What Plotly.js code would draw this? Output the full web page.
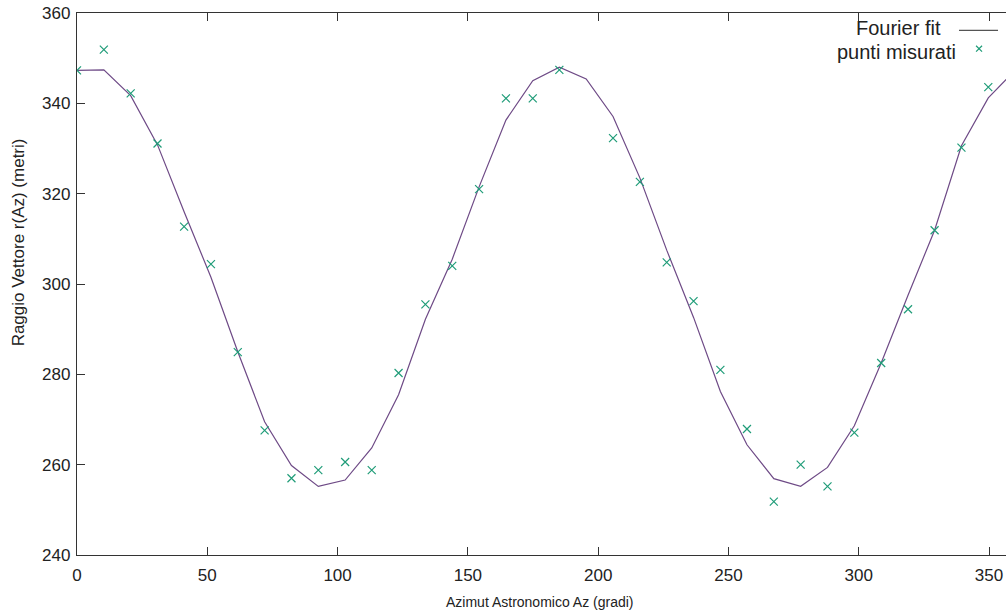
<!DOCTYPE html>
<html>
<head>
<meta charset="utf-8">
<script src="https://cdn.plot.ly/plotly-3.0.1.min.js"></script>
<style>
html,body{margin:0;padding:0;background:#fff;overflow:hidden;}
#chart{width:1006px;height:612px;}
</style>
</head>
<body>
<div id="chart"></div>
<script>
// Azimuth of the measured points (degrees)
const azimut = [0, 10.3, 20.6, 30.9, 41.1, 51.4, 61.7, 72.0, 82.3, 92.6, 102.9, 113.1, 123.4, 133.7, 144.0, 154.3, 164.6, 174.9, 185.1, 195.4, 205.7, 216.0, 226.3, 236.6, 246.9, 257.1, 267.4, 277.7, 288.0, 298.3, 308.6, 318.9, 329.1, 339.4, 349.7];
// Measured radius (metres); the point at 195.4 is not visible in the picture
const puntiMisurati = [347.3, 351.9, 342.2, 331.1, 312.7, 304.4, 284.9, 267.6, 257.0, 258.8, 260.6, 258.8, 280.3, 295.5, 304.0, 321.0, 341.1, 341.1, 347.4, null, 332.3, 322.6, 304.8, 296.2, 281.0, 267.9, 251.8, 260.0, 255.2, 267.1, 282.5, 294.4, 311.9, 330.2, 343.6];
// Fourier fit, evaluated at the same azimuths plus 360
const azimutFit = [0, 10.3, 20.6, 30.9, 41.1, 51.4, 61.7, 72.0, 82.3, 92.6, 102.9, 113.1, 123.4, 133.7, 144.0, 154.3, 164.6, 174.9, 185.1, 195.4, 205.7, 216.0, 226.3, 236.6, 246.9, 257.1, 267.4, 277.7, 288.0, 298.3, 308.6, 318.9, 329.1, 339.4, 349.7, 360];
const fourierFit = [347.3, 347.4, 341.7, 330.8, 316.0, 301.5, 285.0, 269.5, 259.8, 255.2, 256.6, 263.7, 275.5, 292.2, 305.5, 321.5, 336.3, 345.0, 348.0, 345.4, 337.1, 323.5, 307.5, 292.6, 276.2, 264.4, 256.9, 255.2, 259.4, 268.6, 282.5, 297.5, 311.9, 330.6, 341.2, 347.3];

const xTicks = [0, 50, 100, 150, 200, 250, 300, 350];
const yTicks = [240, 260, 280, 300, 320, 340, 360];

const lineColor = '#6e4a86';
const markColor = '#1f9c78';
const tickFont = {family: '"Liberation Sans Narrow", "Liberation Sans", Arial, sans-serif', size: 17, color: '#222'};
const textFont = {family: '"Liberation Sans", Arial, sans-serif', color: '#222'};

const traces = [
  {
    x: azimutFit, y: fourierFit, type: 'scatter', mode: 'lines',
    name: 'Fourier fit',
    line: {color: lineColor, width: 1.2},
    hoverinfo: 'skip'
  },
  {
    x: azimut, y: puntiMisurati, type: 'scatter', mode: 'markers',
    name: 'punti misurati',
    marker: {symbol: 'x-thin-open', size: 8, color: markColor, line: {color: markColor, width: 1.2}},
    hoverinfo: 'skip'
  }
];

// legend sample geometry (paper coords)
const mx = 0.9710, my = 0.9341, dx = 0.0032, dy = 0.0055;

const layout = {
  width: 1006, height: 612,
  margin: {l: 76.5, r: 0, t: 13.3, b: 56.7, pad: 0},
  paper_bgcolor: '#fff', plot_bgcolor: '#fff',
  showlegend: false,
  xaxis: {
    range: [0, 356.5], tickvals: xTicks, ticktext: xTicks.map(String),
    ticks: 'inside', ticklen: 8, tickwidth: 1, tickcolor: '#333',
    showline: true, linecolor: '#333', linewidth: 1.2, mirror: 'ticks',
    showgrid: false, zeroline: false,
    tickfont: tickFont, ticklabelstandoff: 4
  },
  yaxis: {
    range: [240, 360], tickvals: yTicks, ticktext: yTicks.map(String),
    ticks: 'inside', ticklen: 8, tickwidth: 1, tickcolor: '#333',
    showline: true, linecolor: '#333', linewidth: 1.2, mirror: false,
    showgrid: false, zeroline: false,
    tickfont: tickFont, ticklabelstandoff: 2
  },
  annotations: [
    {text: 'Azimut Astronomico Az (gradi)', xref: 'paper', yref: 'paper', x: 0.4987, y: -0.0862,
     xanchor: 'center', yanchor: 'middle', showarrow: false, font: Object.assign({size: 14}, textFont)},
    {text: 'Raggio Vettore r(Az) (metri)', xref: 'paper', yref: 'paper', x: -0.0629, y: 0.576,
     xanchor: 'center', yanchor: 'middle', textangle: -90, showarrow: false, font: Object.assign({size: 17}, textFont)},
    {text: 'Fourier fit', xref: 'paper', yref: 'paper', x: 0.9319, y: 0.9729,
     xanchor: 'right', yanchor: 'middle', showarrow: false, font: Object.assign({size: 20}, textFont)},
    {text: 'punti misurati', xref: 'paper', yref: 'paper', x: 0.9484, y: 0.9273,
     xanchor: 'right', yanchor: 'middle', showarrow: false, font: Object.assign({size: 20}, textFont)}
  ],
  shapes: [
    {type: 'line', xref: 'paper', yref: 'paper', x0: 0.9494, x1: 0.9914, y0: 0.9679, y1: 0.9679,
     line: {color: '#555', width: 1.2}},
    {type: 'path', xref: 'paper', yref: 'paper',
     path: 'M ' + (mx-dx) + ',' + (my-dy) + ' L ' + (mx+dx) + ',' + (my+dy) + ' M ' + (mx-dx) + ',' + (my+dy) + ' L ' + (mx+dx) + ',' + (my-dy),
     line: {color: markColor, width: 1.2}}
  ]
};

Plotly.newPlot('chart', traces, layout, {staticPlot: true, displayModeBar: false});
</script>
</body>
</html>
